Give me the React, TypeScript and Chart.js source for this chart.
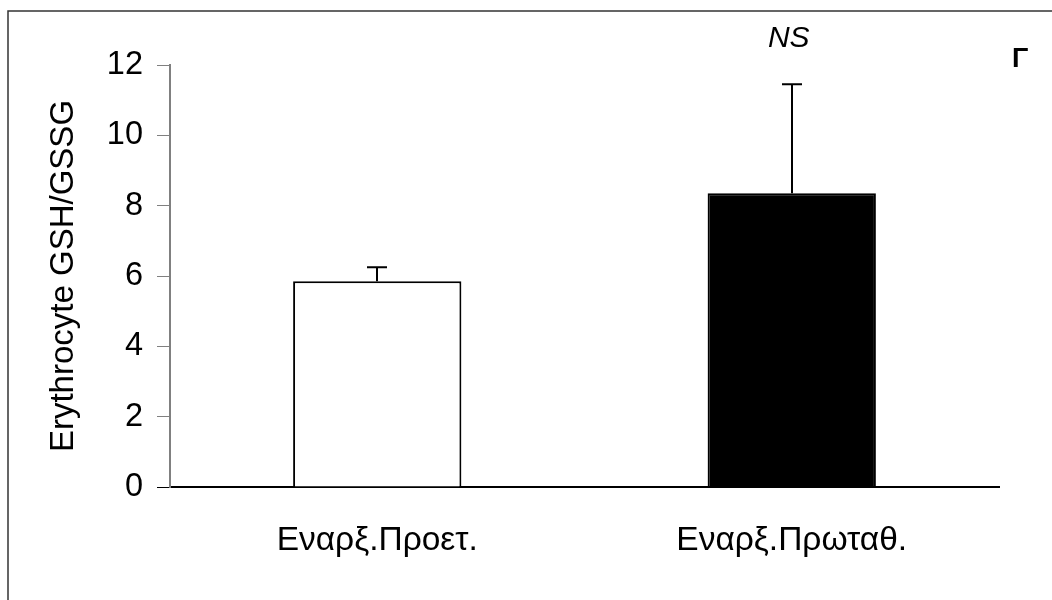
import React, { useEffect, useRef } from "react";
import { Chart, registerables } from "chart.js";

Chart.register(...registerables);

const categories = ["Εναρξ.Προετ.", "Εναρξ.Πρωταθ."];
const meanValues = [5.85, 8.35];
const errorValues = [0.4, 3.1];
const barColors = ["#ffffff", "#000000"];
const yTicks = [0, 2, 4, 6, 8, 10, 12];
const yTitle = "Erythrocyte GSH/GSSG";
const significanceLabel = "NS";
const panelLabel = "Γ";

const FONT = "'Liberation Sans', Arial, Helvetica, sans-serif";

const annotationsPlugin = {
  id: "annotations",
  afterDatasetsDraw(chart: any) {
    const ctx = chart.ctx;
    const meta = chart.getDatasetMeta(0);
    const yScale = chart.scales.y;
    ctx.save();
    // error bars (upper only)
    ctx.strokeStyle = "#000000";
    ctx.lineWidth = 2;
    meta.data.forEach((bar: any, i: number) => {
      const x = Math.round(bar.x);
      const yTop = yScale.getPixelForValue(meanValues[i]);
      const yErr = yScale.getPixelForValue(meanValues[i] + errorValues[i]);
      ctx.beginPath();
      ctx.moveTo(x, yTop);
      ctx.lineTo(x, yErr);
      ctx.moveTo(x - 10, yErr);
      ctx.lineTo(x + 10, yErr);
      ctx.stroke();
    });
    // NS above second bar
    const bar2 = meta.data[1];
    ctx.fillStyle = "#000000";
    ctx.font = `italic 30px ${FONT}`;
    ctx.textAlign = "center";
    ctx.textBaseline = "alphabetic";
    ctx.fillText(significanceLabel, bar2.x - 3, 47);
    // panel letter
    ctx.font = `bold 27px ${FONT}`;
    ctx.textAlign = "left";
    ctx.fillText(panelLabel, 1012, 67);
    // frame (left and top)
    ctx.strokeStyle = "#333333";
    ctx.lineWidth = 1.5;
    ctx.beginPath();
    ctx.moveTo(8, 600);
    ctx.lineTo(8, 11);
    ctx.lineTo(1052, 11);
    ctx.stroke();
    ctx.restore();
  },
};

export default function App() {
  const canvasRef = useRef<HTMLCanvasElement | null>(null);

  useEffect(() => {
    if (!canvasRef.current) return;
    const chart = new Chart(canvasRef.current, {
      type: "bar",
      data: {
        labels: categories,
        datasets: [
          {
            data: meanValues,
            backgroundColor: barColors,
            borderColor: "#000000",
            borderWidth: 2,
            borderSkipped: "start",
            barPercentage: 0.406,
            categoryPercentage: 1,
          },
        ],
      },
      options: {
        responsive: false,
        animation: false,
        devicePixelRatio: 1,
        layout: { padding: { left: 0, right: 53, top: 65, bottom: 0 } },
        plugins: {
          legend: { display: false },
          tooltip: { enabled: false },
          title: { display: false },
        },
        scales: {
          x: {
            type: "category",
            z: 1,
            grid: { display: false, drawTicks: false },
            border: { display: true, color: "#000000", width: 2 },
            ticks: {
              color: "#000000",
              font: { family: FONT, size: 33.5 },
              padding: 34,
              maxRotation: 0,
            },
            afterFit(scale: any) {
              scale.height = 113;
            },
          },
          y: {
            min: 0,
            max: 12,
            afterBuildTicks(scale: any) {
              scale.ticks = yTicks.map((v) => ({ value: v }));
            },
            grid: {
              drawOnChartArea: false,
              drawTicks: true,
              tickLength: 13,
              lineWidth: 1,
              color: (c: any) => (c.tick && c.tick.value === 0 ? "#000000" : "#808080"),
            },
            border: { display: true, color: "#808080", width: 2 },
            ticks: {
              color: "#000000",
              font: { family: FONT, size: 32.5 },
              padding: 14,
            },
            title: {
              display: true,
              text: yTitle,
              color: "#000000",
              font: { family: FONT, size: 33 },
              padding: { top: 44, bottom: 0 },
            },
            afterFit(scale: any) {
              scale.width = 170;
            },
          },
        },
      },
      plugins: [annotationsPlugin],
    });
    return () => chart.destroy();
  }, []);

  return (
    <div style={{ position: "fixed", left: 0, top: 0, width: 1052, height: 600, background: "#ffffff" }}>
      <canvas ref={canvasRef} width={1052} height={600} style={{ display: "block" }} />
    </div>
  );
}
